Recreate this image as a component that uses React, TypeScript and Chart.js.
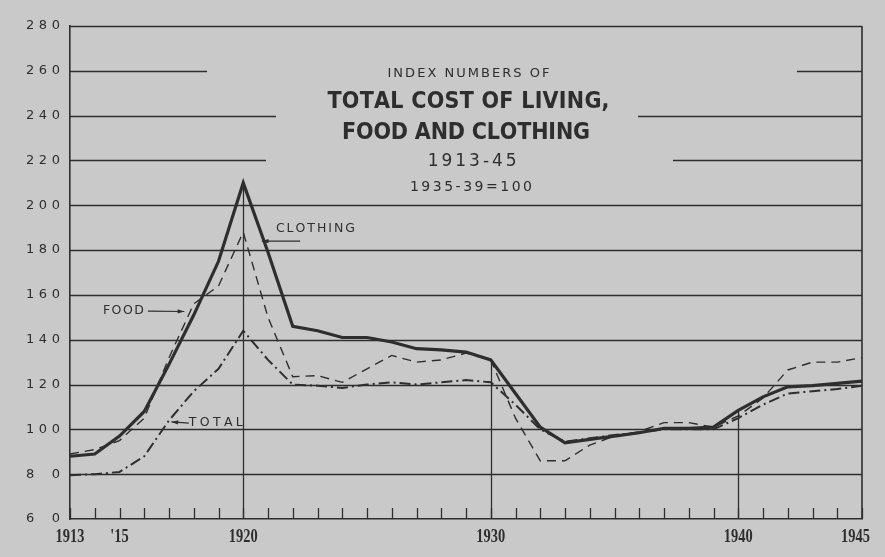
import React, { useEffect, useRef } from 'react';
import { Chart, registerables } from 'chart.js';

Chart.register(...registerables);

const years = [1913, 1914, 1915, 1916, 1917, 1918, 1919, 1920, 1921, 1922, 1923, 1924, 1925, 1926, 1927, 1928, 1929, 1930, 1931, 1932, 1933, 1934, 1935, 1936, 1937, 1938, 1939, 1940, 1941, 1942, 1943, 1944, 1945];
const clothing = [88, 89, 97, 108, 129, 151, 175, 210, 179, 146, 144, 141, 141, 139, 136, 135.5, 134.5, 131, 116, 101, 94, 95.5, 97, 98.5, 100.5, 100.5, 101, 108.5, 114.5, 119, 119.5, 120.5, 121.5];
const food = [89, 91, 95, 105, 132, 156, 164, 188, 150, 123.5, 124, 121, 127, 133, 130, 131, 134, 131, 105, 86, 86, 93, 97, 99, 103, 103, 101, 106, 114, 126.5, 130, 130, 132];
const total = [79.5, 80, 81, 88, 104, 117, 127, 144, 131, 120, 119.5, 118.5, 120, 121, 120, 121, 122, 121, 111, 100, 94.5, 96, 97.5, 98.5, 100, 100, 100, 105, 111, 116, 117, 118, 119.5];

const yTicks = [60, 80, 100, 120, 140, 160, 180, 200, 220, 240, 260, 280];
const xLabelYears = [1913, 1915, 1920, 1930, 1940, 1945];
const xLabelTexts = ['1913', "'15", '1920', '1930', '1940', '1945'];
const guideYears = [1920, 1930, 1940];
const seriesNames = ['CLOTHING', 'FOOD', 'TOTAL'];
const titleLines = ['INDEX NUMBERS OF', 'TOTAL COST OF LIVING,', 'FOOD AND CLOTHING', '1913-45', '1935-39=100'];

const BG = '#c9c9c9';
const INK = '#2e2e2e';

// layout (pixel widths / fonts) for the title block, anchored in data units
const titleLayout = [
  { font: '13px "DejaVu Sans"', x: 1929.1, y: 258.6, w: 162 },
  { font: 'bold 23px "DejaVu Sans Condensed"', x: 1929.1, y: 246.1, w: 282 },
  { font: 'bold 23px "DejaVu Sans Condensed"', x: 1929.0, y: 232.2, w: 248 },
  { font: '17px "DejaVu Sans"', x: 1929.25, y: 219.3, w: 89 },
  { font: '14px "DejaVu Sans"', x: 1929.2, y: 208.1, w: 122 },
];
const gridGaps = [
  { v: 260, from: 1918.54, to: 1942.37 },
  { v: 240, from: 1921.32, to: 1935.95 },
  { v: 220, from: 1920.92, to: 1937.36 },
];
// annotation: text anchor (left), arrow from -> to (data units)
const notes = [
  { text: 0, tx: 1921.32, ty: 189.4, w: 79, ax1: 1922.3, ay1: 184, ax2: 1920.75, ay2: 184 },
  { text: 1, tx: 1914.33, ty: 152.8, w: 41, ax1: 1916.15, ay1: 152.8, ax2: 1917.62, ay2: 152.6 },
  { text: 2, tx: 1917.8, ty: 102.8, w: 54, ax1: 1917.8, ay1: 102.8, ax2: 1917.1, ay2: 103.3 },
];

function drawSpaced(ctx: CanvasRenderingContext2D, text: string, x: number, y: number, width: number, align: string) {
  const chars = Array.from(text);
  const ws = chars.map((c) => ctx.measureText(c).width);
  const w0 = ws.reduce((a, b) => a + b, 0);
  const sp = chars.length > 1 ? (width - w0) / (chars.length - 1) : 0;
  let cx = align === 'center' ? x - width / 2 : align === 'right' ? x - width : x;
  ctx.textAlign = 'left';
  ctx.textBaseline = 'middle';
  chars.forEach((c, i) => {
    ctx.fillText(c, cx, y);
    cx += ws[i] + sp;
  });
}

function arrow(ctx: CanvasRenderingContext2D, x1: number, y1: number, x2: number, y2: number) {
  ctx.beginPath();
  ctx.moveTo(x1, y1);
  ctx.lineTo(x2, y2);
  ctx.stroke();
  const a = Math.atan2(y2 - y1, x2 - x1);
  const L = 7;
  const s = 0.3;
  ctx.beginPath();
  ctx.moveTo(x2, y2);
  ctx.lineTo(x2 - L * Math.cos(a - s), y2 - L * Math.sin(a - s));
  ctx.lineTo(x2 - L * Math.cos(a + s), y2 - L * Math.sin(a + s));
  ctx.closePath();
  ctx.fill();
}

const decor = {
  id: 'decor',
  beforeDraw(chart: any) {
    const { ctx, width, height } = chart;
    ctx.save();
    ctx.fillStyle = BG;
    ctx.fillRect(0, 0, width, height);
    ctx.restore();
  },
  beforeDatasetsDraw(chart: any) {
    const { ctx, chartArea } = chart;
    const xs = chart.scales.x;
    const ys = chart.scales.y;
    ctx.save();
    ctx.strokeStyle = INK;
    ctx.fillStyle = INK;
    // horizontal rules with gaps behind the title
    ctx.lineWidth = 1.4;
    yTicks.forEach((v) => {
      if (v === yTicks[0]) return;
      const py = Math.round(ys.getPixelForValue(v)) + 0.5;
      const gap = gridGaps.find((g) => g.v === v);
      ctx.beginPath();
      if (gap) {
        ctx.moveTo(chartArea.left, py);
        ctx.lineTo(xs.getPixelForValue(gap.from), py);
        ctx.moveTo(xs.getPixelForValue(gap.to), py);
        ctx.lineTo(chartArea.right, py);
      } else {
        ctx.moveTo(chartArea.left, py);
        ctx.lineTo(chartArea.right, py);
      }
      ctx.stroke();
    });
    // right frame
    ctx.lineWidth = 1.6;
    ctx.beginPath();
    ctx.moveTo(xs.getPixelForValue(years[years.length - 1]), ys.getPixelForValue(yTicks[yTicks.length - 1]));
    ctx.lineTo(xs.getPixelForValue(years[years.length - 1]), ys.getPixelForValue(yTicks[0]));
    ctx.stroke();
    // vertical guides up to the clothing line
    ctx.lineWidth = 1.3;
    guideYears.forEach((yr) => {
      const i = years.indexOf(yr);
      const px = Math.round(xs.getPixelForValue(yr)) + 0.5;
      ctx.beginPath();
      ctx.moveTo(px, ys.getPixelForValue(yTicks[0]));
      ctx.lineTo(px, ys.getPixelForValue(clothing[i]));
      ctx.stroke();
    });
    // inner year ticks
    ctx.lineWidth = 1.3;
    const by = ys.getPixelForValue(yTicks[0]);
    years.forEach((yr) => {
      const px = Math.round(xs.getPixelForValue(yr)) + 0.5;
      ctx.beginPath();
      ctx.moveTo(px, by);
      ctx.lineTo(px, by - 11);
      ctx.stroke();
    });
    // y labels
    ctx.font = '13px "DejaVu Sans"';
    yTicks.forEach((v) => {
      drawSpaced(ctx, String(v), chartArea.left - 10, ys.getPixelForValue(v), 34, 'right');
    });
    // x labels (condensed bold serif)
    ctx.font = 'bold 19px "Liberation Serif"';
    xLabelYears.forEach((yr, i) => {
      const px = xs.getPixelForValue(yr);
      const last = i === xLabelYears.length - 1;
      ctx.save();
      ctx.translate(last ? px + 8 : px, by + 18);
      ctx.scale(0.76, 1);
      ctx.textAlign = last ? 'right' : 'center';
      ctx.textBaseline = 'middle';
      ctx.fillText(xLabelTexts[i], 0, 0);
      ctx.restore();
    });
    // title block
    titleLines.forEach((t, i) => {
      const L = titleLayout[i];
      ctx.font = L.font;
      drawSpaced(ctx, t, xs.getPixelForValue(L.x), ys.getPixelForValue(L.y), L.w, 'center');
    });
    // series annotations
    ctx.font = '12.5px "DejaVu Sans"';
    ctx.lineWidth = 1.2;
    notes.forEach((n) => {
      drawSpaced(ctx, seriesNames[n.text], xs.getPixelForValue(n.tx), ys.getPixelForValue(n.ty), n.w, 'left');
      arrow(ctx, xs.getPixelForValue(n.ax1), ys.getPixelForValue(n.ay1), xs.getPixelForValue(n.ax2), ys.getPixelForValue(n.ay2));
    });
    ctx.restore();
  },
};

export default function App() {
  const ref = useRef<HTMLCanvasElement | null>(null);
  useEffect(() => {
    document.body.style.margin = '0';
    document.body.style.background = BG;
    const canvas = ref.current;
    if (!canvas) return;
    const toPts = (arr: number[]) => arr.map((v, i) => ({ x: years[i], y: v }));
    const chart = new Chart(canvas, {
      type: 'line',
      data: {
        datasets: [
          { label: seriesNames[0], data: toPts(clothing), borderColor: INK, borderWidth: 3.2, pointRadius: 0, tension: 0, fill: false },
          { label: seriesNames[1], data: toPts(food), borderColor: INK, borderWidth: 1.4, borderDash: [9, 6], pointRadius: 0, tension: 0, fill: false },
          { label: seriesNames[2], data: toPts(total), borderColor: INK, borderWidth: 2, borderDash: [11, 4, 2, 4], pointRadius: 0, tension: 0, fill: false },
        ],
      },
      options: {
        animation: false,
        responsive: false,
        events: [],
        layout: { padding: { top: 26, right: 23, left: 0, bottom: 0 } },
        plugins: { legend: { display: false }, tooltip: { enabled: false }, title: { display: false } },
        scales: {
          x: {
            type: 'linear',
            min: years[0],
            max: years[years.length - 1],
            ticks: { display: false, stepSize: 1 },
            grid: { display: false },
            border: { display: true, color: INK, width: 1.6 },
            afterFit: (s: any) => { s.height = 38; },
          },
          y: {
            min: yTicks[0],
            max: yTicks[yTicks.length - 1],
            ticks: { display: false, stepSize: 20 },
            grid: { display: false },
            border: { display: true, color: INK, width: 1.6 },
            afterFit: (s: any) => { s.width = 70; },
          },
        },
      },
      plugins: [decor],
    });
    return () => chart.destroy();
  }, []);
  return <canvas ref={ref} width={885} height={557} style={{ display: 'block' }} />;
}
